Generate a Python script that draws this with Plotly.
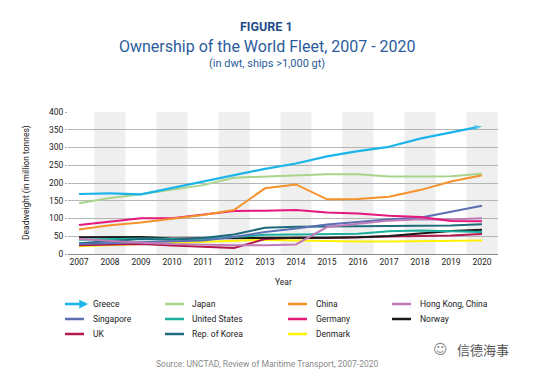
import plotly.graph_objects as go

years = list(range(2007, 2021))

greece = [169, 171, 168, 186, 205, 222, 240, 255, 275, 290, 302, 325, 343, 360]
japan = [143, 158, 168, 181, 194, 215, 219, 223, 225, 225, 218, 218, 219, 226]
china = [69, 81, 89, 100, 110, 124, 185, 196, 154, 155, 161, 180, 204, 222]
hong_kong = [42, 36, 32, 28, 26, 25, 25, 27, 76, 86, 94, 98, 97, 101]
singapore = [28, 30, 33, 35, 38, 48, 62, 72, 83, 90, 98, 102, 120, 136]
united_states = [40, 42, 44, 42, 43, 48, 54, 55, 56, 57, 64, 66, 64, 62]
germany = [82, 92, 101, 101, 111, 121, 122, 124, 117, 114, 108, 104, 93, 92]
norway = [47, 47, 48, 44, 44, 44, 44, 45, 46, 47, 51, 58, 65, 68]
uk = [25, 27, 28, 24, 20, 17, 42, 46, 45, 46, 49, 51, 52, 56]
korea = [30, 35, 42, 40, 45, 55, 74, 77, 78, 78, 79, 81, 80, 84]
denmark = [22, 25, 27, 30, 33, 37, 40, 38, 36, 35, 35, 36, 38, 38]

series_names = ["Greece", "Japan", "China", "Hong Kong, China",
                "Singapore", "United States", "Germany", "Norway",
                "UK", "Rep. of Korea", "Denmark"]
series_values = [greece, japan, china, hong_kong,
                 singapore, united_states, germany, norway,
                 uk, korea, denmark]
series_colors = ["#1bb4e8", "#a9d48b", "#f5922a", "#c07ab8",
                 "#5d6fb4", "#1bb09e", "#e5177b", "#1a1a1a",
                 "#b3184f", "#1d6b7c", "#fff200"]

y_ticks = [0, 50, 100, 150, 200, 250, 300, 350, 400]

FONT = "Roboto"
OFF = 8  # page body margin
W, H = 533 - OFF, 372 - OFF
L, R, T, B = 68 - OFF, 35, 112 - OFF, 118
PW, PH = W - L - R, H - T - B

def px_x(px):
    return (px - OFF - L) / PW

def px_y(py):
    return (H - B - (py - OFF)) / PH

fig = go.Figure()

draw_order = [10, 8, 7, 5, 9, 4, 3, 6, 2, 1, 0]
for i in draw_order:
    name = series_names[i]
    vals = series_values[i]
    col = series_colors[i]
    if name == "Greece":
        fig.add_trace(go.Scatter(
            x=years, y=vals, mode="lines+markers", name=name,
            line=dict(color=col, width=2.2),
            marker=dict(symbol="arrow", angleref="previous",
                        size=[0] * (len(vals) - 1) + [8], color=col,
                        line=dict(width=0)),
            showlegend=False))
    else:
        fig.add_trace(go.Scatter(
            x=years, y=vals, mode="lines", name=name,
            line=dict(color=col, width=2), showlegend=False))

shapes = []
for yr in years:
    if yr % 2 == 0:
        shapes.append(dict(type="rect", xref="x", yref="paper",
                           x0=yr - 0.5, x1=yr + 0.5, y0=0, y1=1,
                           fillcolor="#efefef", line=dict(width=0),
                           layer="below"))

annotations = []
annotations.append(dict(text="<b>FIGURE 1</b>", xref="paper", yref="paper",
                        x=px_x(266), y=px_y(27), showarrow=False,
                        font=dict(family=FONT, size=12.5, color="#1f4d8a"),
                        xanchor="center", yanchor="middle"))
annotations.append(dict(text="Ownership of the World Fleet, 2007 - 2020",
                        xref="paper", yref="paper",
                        x=px_x(267), y=px_y(46), showarrow=False,
                        font=dict(family=FONT, size=16, color="#2b5c9c"),
                        xanchor="center", yanchor="middle"))
annotations.append(dict(text="(in dwt, ships >1,000 gt)",
                        xref="paper", yref="paper",
                        x=px_x(267), y=px_y(63), showarrow=False,
                        font=dict(family=FONT, size=11, color="#2b5c9c"),
                        xanchor="center", yanchor="middle"))
annotations.append(dict(text="Deadweight (in million tonnes)",
                        xref="paper", yref="paper",
                        x=px_x(26), y=px_y(183), showarrow=False,
                        textangle=-90,
                        font=dict(family=FONT, size=8.5, color="#222"),
                        xanchor="center", yanchor="middle"))
annotations.append(dict(text="Year", xref="paper", yref="paper",
                        x=px_x(283), y=px_y(282), showarrow=False,
                        font=dict(family=FONT, size=8.5, color="#222"),
                        xanchor="center", yanchor="middle"))

col_line_x = [65, 165, 288, 392]
col_text_x = [91, 190, 314, 418]
row_y = [304, 319, 334]
for k, name in enumerate(series_names):
    r, c = divmod(k, 4)
    col = series_colors[k]
    shapes.append(dict(type="line", xref="paper", yref="paper",
                       x0=px_x(col_line_x[c]), x1=px_x(col_line_x[c] + 19),
                       y0=px_y(row_y[r]), y1=px_y(row_y[r]),
                       line=dict(color=col, width=2.5)))
    if name == "Greece":
        annotations.append(dict(text="", xref="paper", yref="paper",
                                x=px_x(col_line_x[c] + 23), y=px_y(row_y[r]),
                                axref="pixel", ayref="pixel", ax=-6, ay=0,
                                showarrow=True, arrowhead=2, arrowsize=0.7,
                                arrowwidth=2.5, arrowcolor=col))
    annotations.append(dict(text=name, xref="paper", yref="paper",
                            x=px_x(col_text_x[c]), y=px_y(row_y[r]),
                            showarrow=False, xanchor="left", yanchor="middle",
                            font=dict(family=FONT, size=8.5, color="#222")))

annotations.append(dict(text="Source: UNCTAD, Review of Maritime Transport, 2007-2020",
                        xref="paper", yref="paper",
                        x=px_x(267), y=px_y(364), showarrow=False,
                        font=dict(family=FONT, size=8.5, color="#8a8a8a"),
                        xanchor="center", yanchor="middle"))
annotations.append(dict(text="信德海事", xref="paper", yref="paper",
                        x=px_x(483), y=px_y(349), showarrow=False,
                        font=dict(family="Noto Sans CJK SC", size=13, color="#555"),
                        xanchor="center", yanchor="middle"))
annotations.append(dict(text="☺", xref="paper", yref="paper",
                        x=px_x(440), y=px_y(349), showarrow=False,
                        font=dict(family="DejaVu Sans", size=14, color="#888"),
                        xanchor="center", yanchor="middle"))

fig.update_layout(
    width=W, height=H,
    margin=dict(l=L, r=R, t=T, b=B, pad=0),
    paper_bgcolor="white", plot_bgcolor="white",
    showlegend=False,
    shapes=shapes, annotations=annotations,
    font=dict(family=FONT, size=8.5, color="#222"),
)
fig.update_xaxes(range=[2006.645, 2020.516], tickmode="array",
                 tickvals=years, ticktext=[str(y) for y in years],
                 showgrid=False, zeroline=False,
                 showline=True, linecolor="#8c8c8c", linewidth=1,
                 ticks="", tickfont=dict(family=FONT, size=8.5, color="#222"))
fig.update_yaxes(range=[0, 400], tickmode="array", tickvals=y_ticks,
                 showgrid=True, gridcolor="#b5b5b5", gridwidth=1,
                 zeroline=False, showline=False,
                 ticks="outside", ticklen=2, tickcolor="#aaaaaa",
                 tickfont=dict(family=FONT, size=8.5, color="#222"))

fig.write_html("out.html")
